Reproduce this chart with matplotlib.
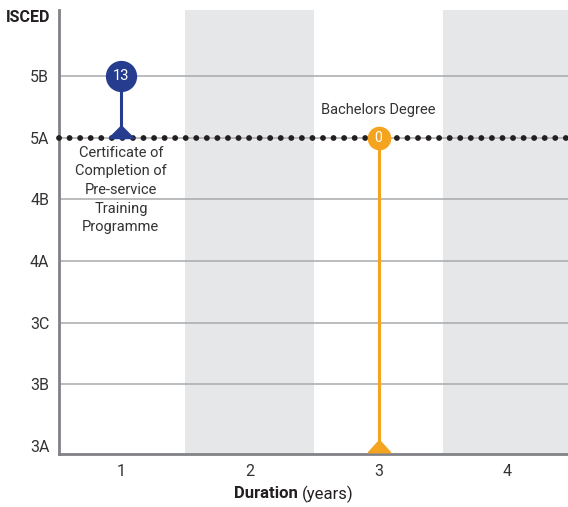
import matplotlib
matplotlib.use("Agg")
import matplotlib.pyplot as plt

plt.rcParams['font.family'] = ['Roboto', 'DejaVu Sans']

levels = ["3A", "3B", "3C", "4A", "4B", "5A", "5B"]
durations = [1, 2, 3, 4]
shaded = [2, 4]

# qualifications
q_duration = [1, 3]
q_from = ["5B", "5A"]
q_to = ["5A", "3A"]
q_count = ["13", "0"]
q_label = ["Certificate of\nCompletion of\nPre-service\nTraining\nProgramme", "Bachelors Degree"]
q_color = ["#263d8f", "#f5a41f"]
q_circle = [21.5, 16]
q_tri = [18, 16]
ref_level = "5A"

fig = plt.figure(figsize=(5.68, 5.07), dpi=100)
ax = fig.add_axes([59/568, 53/507, 1 - 59/568, (454-10)/507])
ax.set_xlim(0.52, 4.47)
ax.set_ylim(-0.13, 7.07)

yi = {l: i for i, l in enumerate(levels)}

for d in shaded:
    ax.axvspan(d - 0.5, d + 0.5, color="#e6e7e8", zorder=0, lw=0)

for i, l in enumerate(levels):
    if i > 0:
        ax.axhline(i, color="#a7a9ac", lw=1.1, zorder=1)

ax.set_yticks(range(len(levels)))
ax.set_yticklabels(levels)
ax.set_xticks(durations)
ax.set_xticklabels([str(d) for d in durations])
ax.tick_params(length=0, labelsize=11.5, colors="#333333", pad=7)
ax.tick_params(axis='x', pad=7)

for s in ["top", "right"]:
    ax.spines[s].set_visible(False)
for s in ["left", "bottom"]:
    ax.spines[s].set_color("#808285")
    ax.spines[s].set_linewidth(2)

# reference dotted line
ax.plot([0.52, 4.47], [yi[ref_level]] * 2, color="#231f20", lw=4.2,
        linestyle=(0, (0.01, 1.8)), dash_capstyle="round", zorder=3, clip_on=False)

tri_base = [(-1, 0), (1, 0), (0, 1.0), (-1, 0)]
tri_mid = [(-1, -0.55), (1, -0.55), (0, 0.55), (-1, -0.55)]
for k, (d, f, t, c, col, cs, ts) in enumerate(zip(q_duration, q_from, q_to, q_count, q_color, q_circle, q_tri)):
    ax.plot([d, d], [yi[f], yi[t]], color=col, lw=2.2, zorder=4)
    ax.plot([d], [yi[t]], marker=tri_base if k == 0 else tri_mid, markersize=ts,
            color=col, zorder=5, clip_on=False)
    ax.plot([d], [yi[f]], marker="o", markersize=cs, color=col, zorder=6)
    ax.text(d, yi[f], c, color="white", ha="center", va="center",
            fontsize=10.5 if cs > 18 else 10, zorder=7)

ax.text(q_duration[0], yi[q_to[0]] - 0.13, q_label[0], ha="center", va="top",
        fontsize=10.5, color="#333333", linespacing=1.42, zorder=7)
ax.text(q_duration[1], yi[q_from[1]] + 0.45, q_label[1], ha="center", va="center",
        fontsize=10.5, color="#333333", zorder=7)

fig.text(6/568, 1 - 17/507, "ISCED", fontsize=11.5, fontweight="bold", color="#231f20",
         va="center", ha="left")
fig.text(298/568, 1 - 494/507, "Duration", fontsize=12, fontweight="bold", color="#231f20",
         va="center", ha="right")
fig.text(302/568, 1 - 494/507, "(years)", fontsize=12, color="#231f20",
         va="center", ha="left")
fig.savefig("out.png", dpi=100)
